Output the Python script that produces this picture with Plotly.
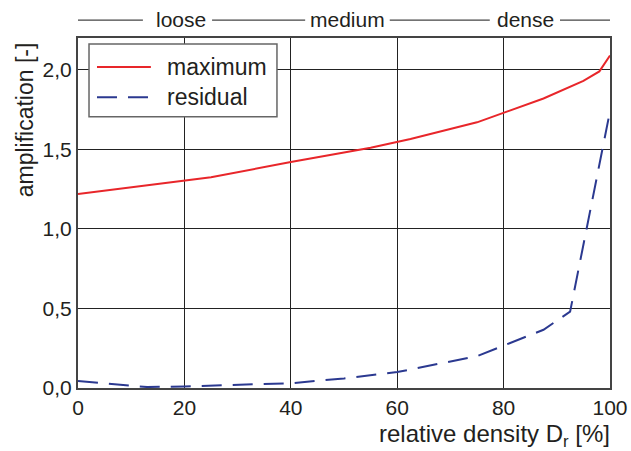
import plotly.graph_objects as go

# relative density D_r [%] and amplification factors
dr_max = [0, 25, 40, 55, 62.5, 75, 87.5, 95, 98, 100]
amp_max = [1.22, 1.325, 1.42, 1.51, 1.565, 1.67, 1.82, 1.93, 1.99, 2.09]

dr_res = [0, 13, 20, 40, 50, 60, 75, 87.5, 92.5, 100]
amp_res = [0.044, 0.006, 0.01, 0.03, 0.06, 0.10, 0.20, 0.366, 0.48, 1.74]

series_names = ["maximum", "residual"]
series_colors = ["#e8262a", "#2b3990"]
series_dash = ["solid", "20px,11px"]

x_ticks = [0, 20, 40, 60, 80, 100]
y_ticks = [0.0, 0.5, 1.0, 1.5, 2.0]

density_classes = ["loose", "medium", "dense"]
class_centres = [19.4, 50.7, 84.2]
# separator lines between the class labels (in D_r units)
class_rules = [(-0.6, 12.2), (25.2, 42.7), (58.6, 77.4), (90.6, 100.6)]

FONT = "Liberation Sans, Arial, Helvetica, sans-serif"
TEXT = "#231f20"
GRID = "#222222"

fig = go.Figure()
for xs, ys, name, col, dash in zip([dr_max, dr_res], [amp_max, amp_res],
                                   series_names, series_colors, series_dash):
    fig.add_trace(go.Scatter(x=xs, y=ys, mode="lines", name=name,
                             line=dict(color=col, width=2, dash=dash),
                             showlegend=False))

fig.update_layout(
    width=631, height=451,
    margin=dict(l=78, r=21, t=38, b=63),
    paper_bgcolor="white", plot_bgcolor="white",
    separators=",.",
    font=dict(family=FONT, size=21, color=TEXT),
    xaxis=dict(range=[0, 100], tickvals=x_ticks, showgrid=True,
               gridcolor=GRID, gridwidth=1, zeroline=False,
               showline=True, linecolor="#444", linewidth=2, mirror=True,
               ticks="", tickfont=dict(size=21, color=TEXT), automargin=False),
    yaxis=dict(range=[0, 2.2], tickvals=y_ticks, tickformat=".1f",
               showgrid=True, gridcolor=GRID, gridwidth=1, zeroline=False,
               showline=True, linecolor="#444", linewidth=2, mirror=True,
               ticks="", tickfont=dict(size=21, color=TEXT), automargin=False),
)

# axis titles
fig.add_annotation(text="relative density D<sub>r</sub> [%]", xref="paper", yref="paper",
                   x=1.004, y=-0.137, xanchor="right", yanchor="middle", showarrow=False,
                   font=dict(size=24, color=TEXT))
fig.add_annotation(text="amplification [-]", xref="paper", yref="paper",
                   x=-0.099, y=0.993, xanchor="center", yanchor="top", textangle=-90,
                   showarrow=False, font=dict(size=23, color=TEXT))

# density class labels above the plot, separated by rules
for name, xc in zip(density_classes, class_centres):
    fig.add_annotation(text=name, xref="x", yref="paper", x=xc, y=1.053,
                       xanchor="center", yanchor="middle", showarrow=False,
                       font=dict(size=21, color=TEXT))
for x0, x1 in class_rules:
    fig.add_shape(type="line", xref="x", yref="paper", x0=x0, x1=x1,
                  y0=1.051, y1=1.051, line=dict(color="#444", width=1.2))

# legend box
fig.add_shape(type="rect", xref="paper", yref="paper", x0=0.0207, x1=0.374,
              y0=0.775, y1=0.983, line=dict(color="#666", width=1.5),
              fillcolor="white", layer="above")
row_y = [0.917, 0.831]
for name, col, dash, ry in zip(series_names, series_colors, series_dash, row_y):
    fig.add_shape(type="line", xref="paper", yref="paper", x0=0.0357, x1=0.137,
                  y0=ry, y1=ry, line=dict(color=col, width=2, dash=dash), layer="above")
    fig.add_annotation(text=name, xref="paper", yref="paper", x=0.1635, y=ry,
                       xanchor="left", yanchor="middle", showarrow=False,
                       font=dict(size=23, color=TEXT))

fig.write_html("out.html")
